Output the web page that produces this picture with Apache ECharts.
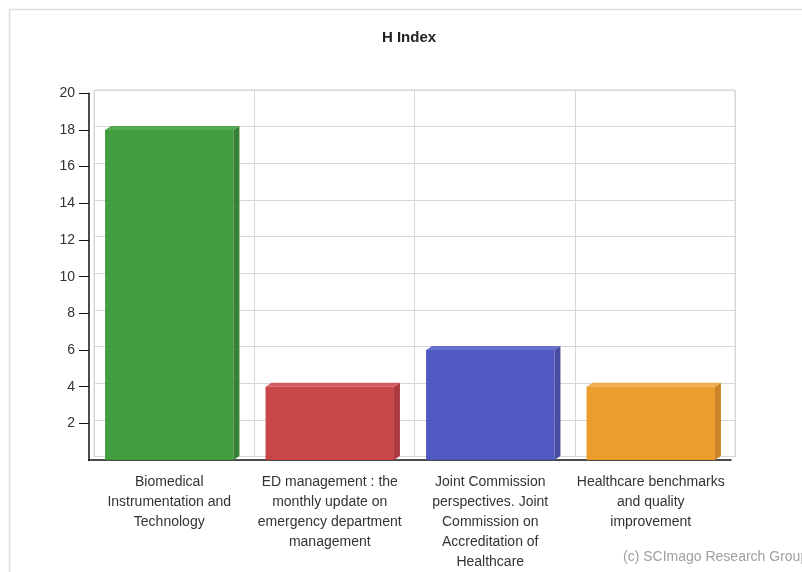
<!DOCTYPE html>
<html>
<head>
<meta charset="utf-8">
<script src="https://cdn.jsdelivr.net/npm/echarts@6/dist/echarts.min.js"></script>
<style>
  html, body { margin: 0; padding: 0; background: #fff; }
  #main { width: 802px; height: 572px; }
</style>
</head>
<body>
<div id="main"></div>
<script>
  // categories (line breaks as in the picture)
  const categories = [
    'Biomedical\nInstrumentation and\nTechnology',
    'ED management : the\nmonthly update on\nemergency department\nmanagement',
    'Joint Commission\nperspectives. Joint\nCommission on\nAccreditation of\nHealthcare',
    'Healthcare benchmarks\nand quality\nimprovement'
  ]
  // H index values
  const hIndex = [18, 4, 6, 4]
  const yTicks = [0, 2, 4, 6, 8, 10, 12, 14, 16, 18, 20]

  // front / side / top colours of each bar
  const frontColors = ['rgba(52,152,52,0.94)', 'rgba(198,58,62,0.94)', 'rgba(70,80,190,0.94)', 'rgba(234,152,32,0.94)']
  const sideColors = ['rgba(42,122,42,0.94)', 'rgba(165,46,52,0.94)', 'rgba(58,66,156,0.94)', 'rgba(200,128,26,0.94)']
  const topColors = ['rgba(72,165,72,0.94)', 'rgba(208,82,86,0.94)', 'rgba(92,102,200,0.94)', 'rgba(238,168,66,0.94)']

  const chart = echarts.init(document.getElementById('main'))

  // 3D-looking bar: front face + right side + top
  function renderBar(params, api) {
    const i = api.value(0)
    const top = api.coord([i, api.value(1)])
    const base = api.coord([i, 0])
    const w = api.size([1, 0])[0] * 0.8
    const x0 = top[0] - w / 2
    const x1 = top[0] + w / 2
    const d = 6, dy = 4
    return {
      type: 'group',
      children: [
        { type: 'rect', shape: { x: x0, y: top[1], width: w, height: base[1] - top[1] },
          style: { fill: frontColors[i] } },
        { type: 'polygon', shape: { points: [[x1, top[1]], [x1 + d, top[1] - dy], [x1 + d, base[1] - dy], [x1, base[1]]] },
          style: { fill: sideColors[i] } },
        { type: 'polygon', shape: { points: [[x0, top[1]], [x0 + d, top[1] - dy], [x1 + d, top[1] - dy], [x1, top[1]]] },
          style: { fill: topColors[i] } }
      ]
    }
  }

  chart.setOption({
    backgroundColor: '#fff',
    animation: false,
    title: {
      text: 'H Index',
      left: 404,
      textAlign: 'center',
      top: 25,
      textStyle: { fontFamily: 'Arial', fontWeight: 'bold', fontSize: 15, color: '#222' }
    },
    graphic: [
      { type: 'rect', shape: { x: 9.5, y: 9.5, width: 900, height: 700 },
        style: { fill: 'none', stroke: '#dedede', lineWidth: 1.5 }, silent: true, z: -10 },
      // the axis has no tick at 0
      { type: 'rect', shape: { x: 76, y: 457, width: 12, height: 6 },
        style: { fill: '#fff' }, silent: true, z: 100 },
      { type: 'text', left: 623, top: 550,
        style: { text: '(c) SCImago Research Group', fontFamily: 'Arial', fontSize: 14, fill: '#a0a0a0' } }
    ],
    grid: [
      // axes
      { left: 89, top: 93.3, width: 642, height: 366.7 },
      // back wall (shifted for depth)
      { left: 94, top: 90, width: 641, height: 366.7, show: true, borderColor: '#d8d8d8', borderWidth: 1, backgroundColor: 'transparent' }
    ],
    xAxis: [
      {
        gridIndex: 0,
        type: 'category',
        data: categories,
        axisLine: { lineStyle: { color: '#111', width: 1.5 } },
        axisTick: { alignWithLabel: true, length: 10, lineStyle: { color: '#111' } },
        axisLabel: { interval: 0, margin: 12, fontFamily: 'Arial', fontSize: 14, color: '#333', lineHeight: 20, align: 'center' },
        splitLine: { show: false }
      },
      {
        gridIndex: 1,
        type: 'category',
        data: categories,
        axisLine: { show: false },
        axisTick: { show: false },
        axisLabel: { show: false },
        splitLine: { show: true, interval: 0, lineStyle: { color: '#d8d8d8' } }
      }
    ],
    yAxis: [
      {
        gridIndex: 0,
        type: 'value',
        min: yTicks[0],
        max: yTicks[yTicks.length - 1],
        interval: 2,
        axisLine: { show: true, lineStyle: { color: '#111', width: 1.5 } },
        axisTick: { show: true, length: 10, lineStyle: { color: '#111' } },
        axisLabel: {
          margin: 14, fontFamily: 'Arial', fontSize: 14, color: '#333',
          formatter: v => (v === 0 ? '' : String(v))
        },
        splitLine: { show: false }
      },
      {
        gridIndex: 1,
        type: 'value',
        min: yTicks[0],
        max: yTicks[yTicks.length - 1],
        interval: 2,
        axisLine: { show: false },
        axisTick: { show: false },
        axisLabel: { show: false },
        splitLine: { show: true, lineStyle: { color: '#d8d8d8' } }
      }
    ],
    series: [{
      type: 'custom',
      xAxisIndex: 0,
      yAxisIndex: 0,
      renderItem: renderBar,
      encode: { x: 0, y: 1 },
      data: hIndex.map((v, i) => [i, v])
    }]
  })
</script>
</body>
</html>
